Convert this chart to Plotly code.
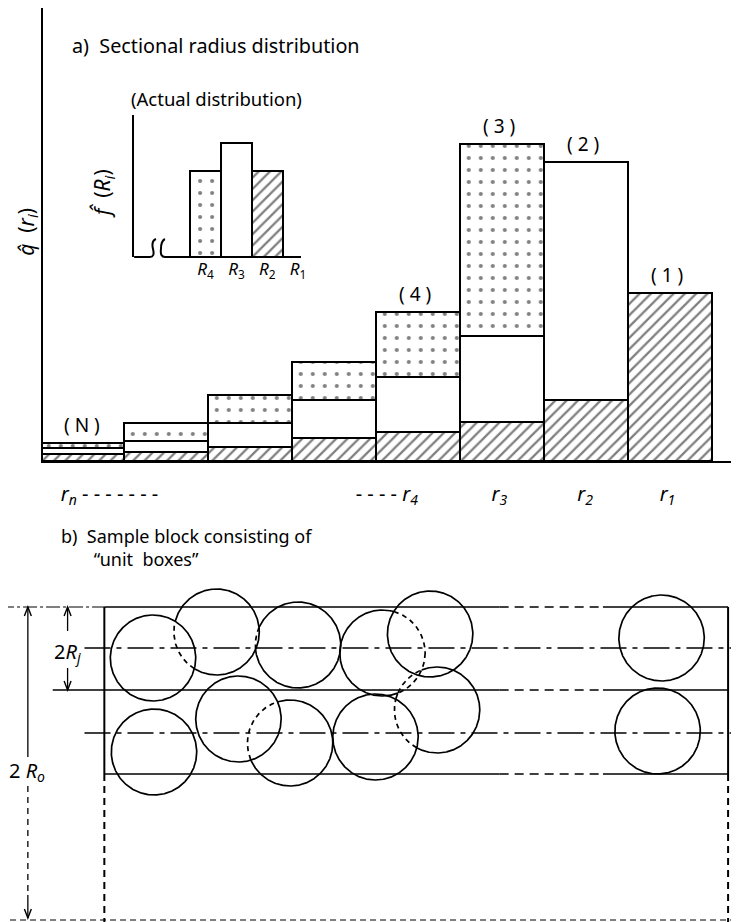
import numpy as np
import plotly.graph_objects as go

W, H = 739, 922
OFF = 8  # page body margin in the browser
FONT = "Noto Sans, DejaVu Sans, sans-serif"
NB = "\u00a0"

def dxf(X):
    return (X - OFF) / W

def dyf(Y):
    return 1 - (Y - OFF) / H

# ---------------- a) sectional radius distribution (stacked) ----------------
bar_groups   = ["N", "n-2", "n-1", "5", "4", "3", "2", "1"]
hatched_vals = [7, 9, 14, 23, 29, 39, 61, 168]
white_vals   = [6, 11, 24, 38, 55, 86, 238, None]
dotted_vals  = [5, 18, 28, 38, 65, 192, None, None]
bar_labels   = ["( N )", "", "", "", "( 4 )", "( 3 )", "( 2 )", "( 1 )"]
tick_pos  = [0.83, 4.13, 5.47, 6.49, 7.47]
tick_text = ["<i>r<sub>n</sub></i> - - - - - - -", "- - - - <i>r<sub>4</sub></i>",
             "<i>r<sub>3</sub></i>", "<i>r<sub>2</sub></i>", "<i>r<sub>1</sub></i>"]
y_title_main = "<i>q\u0302</i>" + NB * 2 + "(<i>r<sub>i</sub></i>)"

# ---------------- inset: actual distribution ----------------
inset_cats = ["R4", "R3", "R2", "R1"]
inset_vals = [86, 114, 86, None]
inset_patterns = [".", "", "/", ""]
inset_ticks = ["<i>R</i><sub>4</sub>", "<i>R</i><sub>3</sub>", "<i>R</i><sub>2</sub>", "<i>R</i><sub>1</sub>"]
y_title_inset = "<i>f\u0302</i>" + NB * 2 + "(<i>R<sub>i</sub></i>)"

# ---------------- b) sample block of unit boxes ----------------
row_lines_y    = [607, 690, 774]
row_lines_x0   = [105, 53, 105]
center_lines_y = [648, 733]
block_x = [105, 733]
gap_x = [503, 607]
circle_r = 43
circle_centers = [(154, 658), (218, 632), (300, 645), (385, 653), (433, 634), (666, 638),
                  (155, 752), (240, 719), (292, 743), (378, 737), (440, 710), (662, 731)]
hidden_by = {1: [0], 2: [1], 3: [4, 10], 10: [3, 9], 8: [7]}

fig = go.Figure()

bx = [0.5 + i for i in range(len(bar_groups))]
common_line = dict(color="black", width=2)
hatch = dict(shape="/", fgcolor="black", bgcolor="white", size=8, solidity=0.28)
dots = dict(shape=".", fgcolor="black", bgcolor="white", size=12, solidity=0.09)
fig.add_trace(go.Bar(x=bx, y=hatched_vals, width=1, xaxis="x2", yaxis="y2", name="hatched",
                     marker=dict(color="white", line=common_line, pattern=hatch)))
fig.add_trace(go.Bar(x=bx, y=white_vals, width=1, xaxis="x2", yaxis="y2", name="white",
                     marker=dict(color="white", line=common_line)))
fig.add_trace(go.Bar(x=bx, y=dotted_vals, width=1, xaxis="x2", yaxis="y2", name="dotted",
                     marker=dict(color="white", line=common_line, pattern=dots)))

ix = list(range(len(inset_cats)))
fig.add_trace(go.Bar(x=ix, y=inset_vals, width=1, xaxis="x3", yaxis="y3", name="inset",
                     marker=dict(color="white", line=common_line,
                                 pattern=dict(shape=inset_patterns, fgcolor="black", bgcolor="white",
                                              size=[12, 8, 8, 8], solidity=[0.09, 0.28, 0.28, 0.28]))))

# circles: solid where visible, dashed where hidden behind another circle
theta = np.linspace(0, 2 * np.pi, 721)
sx, sy, dx, dy = [], [], [], []
for i, (cx, cy) in enumerate(circle_centers):
    px = cx + circle_r * np.cos(theta)
    py = cy + circle_r * np.sin(theta)
    hid = np.zeros(theta.shape, bool)
    for j in hidden_by.get(i, []):
        fx, fy = circle_centers[j]
        hid |= (px - fx) ** 2 + (py - fy) ** 2 < circle_r ** 2
    for k in range(len(theta)):
        if hid[k]:
            sx.append(None); sy.append(None)
            dx.append(px[k]); dy.append(py[k])
        else:
            sx.append(px[k]); sy.append(py[k])
            dx.append(None); dy.append(None)
    sx.append(None); sy.append(None); dx.append(None); dy.append(None)
fig.add_trace(go.Scatter(x=sx, y=sy, mode="lines", line=dict(color="black", width=1.7),
                         xaxis="x", yaxis="y", connectgaps=False, hoverinfo="skip"))
fig.add_trace(go.Scatter(x=dx, y=dy, mode="lines", line=dict(color="black", width=1.7, dash="5px,4px"),
                         xaxis="x", yaxis="y", connectgaps=False, hoverinfo="skip"))

shapes = []
def line(x0, y0, x1, y1, dash="solid", w=1.6):
    shapes.append(dict(type="line", xref="x", yref="y", x0=x0, y0=y0, x1=x1, y1=y1,
                       line=dict(color="black", width=w, dash=dash)))
def path(p, w=1.6):
    shapes.append(dict(type="path", xref="x", yref="y", path=p, line=dict(color="black", width=w)))
def arrow(x, y, up=True):
    s = 9 if up else -9
    path(f"M {x-3.5},{y+s} L {x},{y} L {x+3.5},{y+s}", w=1.4)

# block lines
for y, x0 in zip(row_lines_y, row_lines_x0):
    line(x0, y, gap_x[0], y)
    line(gap_x[0], y, gap_x[1], y, dash="9px,6px")
    line(gap_x[1], y, block_x[1], y)
line(0, row_lines_y[0], block_x[0], row_lines_y[0], dash="14px,3px,3px,3px", w=1)
for x in block_x:
    line(x, row_lines_y[0], x, row_lines_y[-1], w=2)
    line(x, row_lines_y[-1], x, H, dash="7px,5px", w=2)
for y in center_lines_y:
    line(85, y, W, y, dash="26px,6px,5px,6px")
line(0, 920, W, 920, dash="6px,4px", w=1)

# dimension 2Rj
line(68, 607, 68, 631, w=1.3); line(68, 668, 68, 690, w=1.3)
arrow(68, 607, True); arrow(68, 690, False)
# dimension 2Ro
line(28, 607, 28, 757, w=1.3)
line(28, 786, 28, 895, dash="6px,5px", w=1.3)
line(28, 895, 28, 918, w=1.3)
arrow(28, 607, True); arrow(28, 918, False)

# inset baseline with break marks
path("M 135,257 L 151,257 Q 156,257 154,249 Q 152,241 157,239", w=2)
path("M 303,257 L 166,257 Q 161,257 162,249 Q 162,241 166,239", w=2)

annotations = []
def text(x, y, t, size=17, xanchor="left", angle=0):
    annotations.append(dict(x=x, y=y, xref="x", yref="y", text=t, showarrow=False,
                            xanchor=xanchor, yanchor="middle", align="left", textangle=angle,
                            font=dict(size=size, family=FONT, color="black")))

text(70, 45, "a)  Sectional radius distribution", 19.8)
text(130, 98, "(Actual distribution)", 18.5)
text(59, 547, "b)  Sample block consisting of<br>" + NB * 7 + "\u201cunit" + NB * 2 + "boxes\u201d", 18)
text(68, 652, "2<i>R<sub>j</sub></i>", 20, "center")
text(27, 771, "2 <i>R<sub>o</sub></i>", 20, "center")
text(27, 232, y_title_main, 21, "center", -90)
text(104, 194, y_title_inset, 21, "center", -90)

tops = []
for h, w_, d in zip(hatched_vals, white_vals, dotted_vals):
    tops.append(sum(v for v in (h, w_, d) if v is not None))
for xb, top, lab in zip(bx, tops, bar_labels):
    if lab:
        annotations.append(dict(x=xb, y=top, xref="x2", yref="y2", text=lab, showarrow=False,
                                xanchor="center", yanchor="bottom", yshift=3,
                                xshift=0 if lab == "( N )" else -3,
                                font=dict(size=19, family=FONT, color="black")))

fig.update_layout(
    width=W, height=H, margin=dict(l=0, r=0, t=0, b=0),
    paper_bgcolor="white", plot_bgcolor="rgba(0,0,0,0)",
    barmode="stack", showlegend=False,
    font=dict(family=FONT, color="black"),
    shapes=shapes, annotations=annotations,
    xaxis=dict(domain=[0, 1], range=[OFF, W + OFF], visible=False, fixedrange=True),
    yaxis=dict(domain=[0, 1], range=[H + OFF, OFF], visible=False, fixedrange=True),
    xaxis2=dict(domain=[dxf(43), 1], range=[3 / 84.6, (W + OFF - 40) / 84.6], anchor="y2",
                showline=True, linewidth=2, linecolor="black", ticks="", showgrid=False, zeroline=False,
                tickvals=tick_pos, ticktext=tick_text, ticklabelstandoff=14,
                tickfont=dict(size=20, family=FONT, color="black")),
    yaxis2=dict(domain=[dyf(461), dyf(8)], range=[0, 453], anchor="x2",
                showline=True, linewidth=2, linecolor="black", ticks="", showticklabels=False,
                showgrid=False, zeroline=False, automargin=False),
    xaxis3=dict(domain=[dxf(135), dxf(303)], range=[-72 / 31, 96 / 31], anchor="y3",
                showline=False, ticks="", showgrid=False, zeroline=False,
                tickvals=ix, ticktext=inset_ticks, tickfont=dict(size=17, family=FONT, color="black")),
    yaxis3=dict(domain=[dyf(257), dyf(115)], range=[0, 142], anchor="x3",
                showline=True, linewidth=2, linecolor="black", ticks="", showticklabels=False,
                showgrid=False, zeroline=False, automargin=False),
)

fig.write_html("out.html")
